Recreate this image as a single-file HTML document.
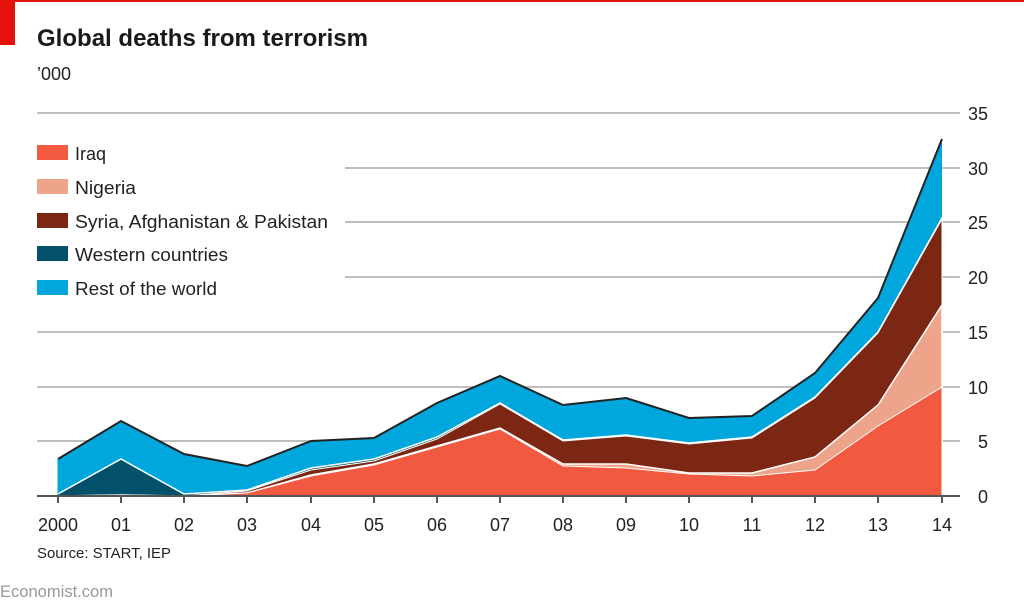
<!DOCTYPE html>
<html><head><meta charset="utf-8"><style>
html,body{margin:0;padding:0;background:#fff;}
svg{display:block;font-family:"Liberation Sans",sans-serif;}
</style></head><body>
<svg width="1024" height="607" viewBox="0 0 1024 607" xmlns="http://www.w3.org/2000/svg">
<rect x="0" y="0" width="1024" height="2" fill="#e3120b"/>
<rect x="0" y="0" width="15" height="45" fill="#e3120b"/>
<text x="37" y="46" font-size="24" font-weight="bold" fill="#1a1a1a" textLength="331" lengthAdjust="spacingAndGlyphs">Global deaths from terrorism</text>
<text x="37" y="80" font-size="18" fill="#222">’000</text>
<g stroke="#bfbfbf" stroke-width="2">
<line x1="37" y1="113" x2="960" y2="113"/>
<line x1="345" y1="168" x2="960" y2="168"/>
<line x1="345" y1="222" x2="960" y2="222"/>
<line x1="345" y1="277" x2="960" y2="277"/>
<line x1="37" y1="332" x2="960" y2="332"/>
<line x1="37" y1="387" x2="960" y2="387"/>
<line x1="37" y1="441" x2="960" y2="441"/>
</g>
<g font-size="18" fill="#222" text-anchor="end">
<text x="988" y="120">35</text><text x="988" y="175">30</text><text x="988" y="229">25</text>
<text x="988" y="284">20</text><text x="988" y="339">15</text><text x="988" y="394">10</text>
<text x="988" y="448">5</text><text x="988" y="503">0</text>
</g>
<!-- areas -->
<polygon fill="#00a7dc" points="58,496 58,459 121,421 184,454 247,466 311,441 374,438 437,403 500,376 563,405 626,398 689,418 752,416 815,373 878,298 942,139 942,496"/>
<polygon fill="#02506a" stroke="#fff" stroke-width="1.5" points="58,496 58,494 121,459 184,494 247,490 311,468 374,459 437,437 500,403 563,440 626,435 689,443 752,437 815,397 878,332 942,218 942,496"/>
<polygon fill="#7b2713" stroke="#fff" stroke-width="1" points="58,496 58,496 121,495 184,496 247,491 311,470 374,461 437,439 500,404 563,441 626,436 689,444 752,438 815,398 878,333 942,219 942,496"/>
<polygon fill="#eda48a" stroke="#fff" stroke-width="1.5" points="58,496 58,496 121,495 184,496 247,493 311,475 374,464 437,446 500,428 563,464 626,464 689,473 752,473 815,457 878,405 942,305 942,496"/>
<polygon fill="#f15a40" stroke="#fff" stroke-width="1" points="58,496 58,496 121,495 184,496 247,493 311,476 374,465 437,447 500,429 563,466 626,468 689,474 752,476 815,470 878,426 942,387 942,496"/>
<polyline fill="none" stroke="#222" stroke-width="2" points="58,459 121,421 184,454 247,466 311,441 374,438 437,403 500,376 563,405 626,398 689,418 752,416 815,373 878,298 942,139"/>
<line x1="58" y1="459" x2="58" y2="496" stroke="#00a7dc" stroke-width="1"/>
<line x1="37" y1="496" x2="960" y2="496" stroke="#555" stroke-width="2"/>
<g stroke="#555" stroke-width="2">
<line x1="58" y1="496" x2="58" y2="503"/><line x1="121" y1="496" x2="121" y2="503"/><line x1="184" y1="496" x2="184" y2="503"/><line x1="247" y1="496" x2="247" y2="503"/><line x1="311" y1="496" x2="311" y2="503"/><line x1="374" y1="496" x2="374" y2="503"/><line x1="437" y1="496" x2="437" y2="503"/><line x1="500" y1="496" x2="500" y2="503"/><line x1="563" y1="496" x2="563" y2="503"/><line x1="626" y1="496" x2="626" y2="503"/><line x1="689" y1="496" x2="689" y2="503"/><line x1="752" y1="496" x2="752" y2="503"/><line x1="815" y1="496" x2="815" y2="503"/><line x1="878" y1="496" x2="878" y2="503"/><line x1="942" y1="496" x2="942" y2="503"/>
</g>
<g font-size="18" fill="#222" text-anchor="middle">
<text x="58" y="531">2000</text><text x="121" y="531">01</text><text x="184" y="531">02</text><text x="247" y="531">03</text><text x="311" y="531">04</text><text x="374" y="531">05</text><text x="437" y="531">06</text><text x="500" y="531">07</text><text x="563" y="531">08</text><text x="626" y="531">09</text><text x="689" y="531">10</text><text x="752" y="531">11</text><text x="815" y="531">12</text><text x="878" y="531">13</text><text x="942" y="531">14</text>
</g>
<text x="37" y="558" font-size="15" fill="#222" textLength="134" lengthAdjust="spacingAndGlyphs">Source: START, IEP</text>
<text x="0" y="597" font-size="17" fill="#999" textLength="113" lengthAdjust="spacingAndGlyphs">Economist.com</text>
<!-- legend -->
<rect x="37" y="145" width="31" height="15" fill="#f15a40"/>
<rect x="37" y="179" width="31" height="15" fill="#eda48a"/>
<rect x="37" y="213" width="31" height="15" fill="#7b2713"/>
<rect x="37" y="246" width="31" height="15" fill="#02506a"/>
<rect x="37" y="280" width="31" height="15" fill="#00a7dc"/>
<g font-size="18" fill="#222">
<text x="75" y="160">Iraq</text>
<text x="75" y="194" textLength="61" lengthAdjust="spacingAndGlyphs">Nigeria</text>
<text x="75" y="228" textLength="253" lengthAdjust="spacingAndGlyphs">Syria, Afghanistan &amp; Pakistan</text>
<text x="75" y="261" textLength="153" lengthAdjust="spacingAndGlyphs">Western countries</text>
<text x="75" y="295" textLength="142" lengthAdjust="spacingAndGlyphs">Rest of the world</text>
</g>
</svg>
</body></html>
